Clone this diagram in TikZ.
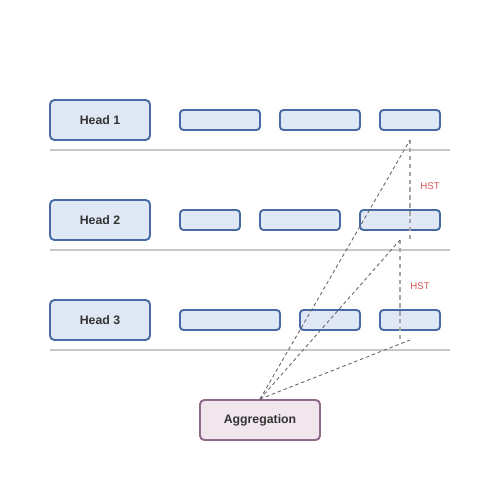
\documentclass[tikz,border=0pt]{standalone}
\usepackage{fontspec}
\setmainfont{Liberation Sans}
\usetikzlibrary{positioning,calc}
\definecolor{boxfill}{HTML}{E0E8F5}
\definecolor{boxline}{HTML}{4A6AA6}
\definecolor{aggfill}{HTML}{F1E6EE}
\definecolor{aggline}{HTML}{8C6A88}
\definecolor{sepline}{HTML}{C8C8C8}
\definecolor{hstred}{HTML}{D9534F}

\begin{document}
\begin{tikzpicture}[x=0.02cm,y=-0.02cm,
    head/.style={draw=boxline,fill=boxfill,line width=1.1pt,rounded corners=2.5pt,
      minimum width=2cm,minimum height=0.8cm,inner sep=0pt,
      font=\fontsize{7}{8}\selectfont\bfseries,text=black!80},
    slot/.style={draw=boxline,fill=boxfill,line width=1.1pt,rounded corners=2pt,
      minimum height=0.4cm,inner sep=0pt},
    agg/.style={draw=aggline,fill=aggfill,line width=1.1pt,rounded corners=2.5pt,
      minimum width=2.4cm,minimum height=0.8cm,inner sep=0pt,
      font=\fontsize{7}{8}\selectfont\bfseries,text=black!80},
    sep/.style={sepline,line width=1.1pt},
    link/.style={black!60,line width=0.5pt,dash pattern=on 2pt off 1.6pt},
    hst/.style={black!35,line width=1pt,dash pattern=on 2.5pt off 2pt},
    lbl/.style={text=hstred,font=\fontsize{5.5}{6}\selectfont}]
  \useasboundingbox (0,0) rectangle (500,500);
  % heads
  \node[head] (h1) at (100,120) {Head 1};
  \node[head] (h2) at (100,220) {Head 2};
  \node[head] (h3) at (100,320) {Head 3};
  % slots of head 1
  \node[slot,minimum width=1.6cm] (s11) at (220,120) {};
  \node[slot,minimum width=1.6cm] (s12) at (320,120) {};
  \node[slot,minimum width=1.2cm] (s13) at (410,120) {};
  % slots of head 2
  \node[slot,minimum width=1.2cm] (s21) at (210,220) {};
  \node[slot,minimum width=1.6cm] (s22) at (300,220) {};
  \node[slot,minimum width=1.6cm] (s23) at (400,220) {};
  % slots of head 3
  \node[slot,minimum width=2cm] (s31) at (230,320) {};
  \node[slot,minimum width=1.2cm] (s32) at (330,320) {};
  \node[slot,minimum width=1.2cm] (s33) at (410,320) {};
  % separators
  \foreach \y in {150,250,350}
    \draw[sep] (50,\y) -- (450,\y);
  \node[agg] (agg) at (260,420) {Aggregation};
  \coordinate (p1) at (410,140);
  \coordinate (p1b) at (410,240);
  \coordinate (p2) at (400,240);
  \coordinate (p2b) at (400,340);
  \coordinate (p3) at (410,340);
  \draw[hst] (p1) -- (p1b);
  \draw[hst] (p2) -- (p2b);
  \draw[link] (agg.north) -- (p1);
  \draw[link] (agg.north) -- (p2);
  \draw[link] (agg.north) -- (p3);
  \node[lbl] (hst1) at (430,186) {HST};
  \node[lbl] (hst2) at (420,286) {HST};
\end{tikzpicture}
\end{document}
